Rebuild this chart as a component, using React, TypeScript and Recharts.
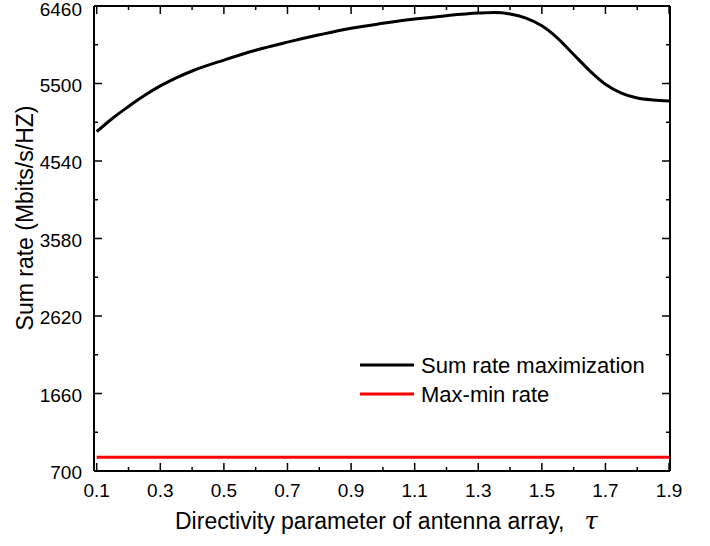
import { Customized, Legend, Line, LineChart, XAxis, YAxis } from 'recharts';

const tau = [
  0.1, 0.15, 0.2, 0.25, 0.3, 0.35, 0.4, 0.5, 0.6, 0.7, 0.8, 0.9, 1.0, 1.1, 1.2,
  1.3, 1.35, 1.4, 1.45, 1.5, 1.55, 1.6, 1.65, 1.7, 1.75, 1.8, 1.85, 1.9,
];
const sumRate = [
  4903, 5070, 5215, 5350, 5470, 5570, 5655, 5790, 5912, 6012, 6103, 6185, 6245,
  6298, 6340, 6372, 6380, 6362, 6310, 6215, 6060, 5860, 5660, 5490, 5380, 5320,
  5295, 5283,
];
const maxMinTau = [0.1, 1.9];
const maxMinRate = [870, 870];

const xTicks = [
  0.1, 0.2, 0.3, 0.4, 0.5, 0.6, 0.7, 0.8, 0.9, 1.0, 1.1, 1.2, 1.3, 1.4, 1.5,
  1.6, 1.7, 1.8, 1.9,
];
const xTickLabels = ['0.1', '0.3', '0.5', '0.7', '0.9', '1.1', '1.3', '1.5', '1.7', '1.9'];
const yTicks = [700, 1180, 1660, 2140, 2620, 3100, 3580, 4060, 4540, 5020, 5500, 5980, 6460];
const yTickLabels = ['700', '1660', '2620', '3580', '4540', '5500', '6460'];

const FONT = '"Liberation Sans", Arial, sans-serif';

const sumData = tau.map((t, i) => ({ x: t, y: sumRate[i] }));
const maxMinData = maxMinTau.map((t, i) => ({ x: t, y: maxMinRate[i] }));

const tickLen = (i: number) => (i % 2 === 0 ? 8 : 4);

const BottomTick = (props: any) => {
  const { x, y, index } = props;
  return (
    <g>
      <line x1={x} x2={x} y1={y} y2={y - tickLen(index)} stroke="#000" strokeWidth={1.5} />
      {index % 2 === 0 && (
        <text x={x} y={y + 26} textAnchor="middle" fontSize={19} fontFamily={FONT} fill="#000">
          {xTickLabels[index / 2]}
        </text>
      )}
    </g>
  );
};

const TopTick = (props: any) => {
  const { x, y, index } = props;
  return <line x1={x} x2={x} y1={y} y2={y + tickLen(index)} stroke="#000" strokeWidth={1.5} />;
};

const LeftTick = (props: any) => {
  const { x, y, index } = props;
  return (
    <g>
      <line x1={x} x2={x + tickLen(index)} y1={y} y2={y} stroke="#000" strokeWidth={1.5} />
      {index % 2 === 0 && (
        <text x={x - 12} y={Math.max(y + 8, 16)} textAnchor="end" fontSize={19} fontFamily={FONT} fill="#000">
          {yTickLabels[index / 2]}
        </text>
      )}
    </g>
  );
};

const RightTick = (props: any) => {
  const { x, y, index } = props;
  return <line x1={x} x2={x - tickLen(index)} y1={y} y2={y} stroke="#000" strokeWidth={1.5} />;
};

const AxisTitles = () => (
  <g fontFamily={FONT} fill="#000">
    <text x={0} y={0} transform="translate(33, 218) rotate(-90)" textAnchor="middle" fontSize={23}>
      Sum rate (Mbits/s/HZ)
    </text>
    <text x={175} y={529} fontSize={23}>
      Directivity parameter of antenna array,
      <tspan dx={20} fontFamily='"DejaVu Serif", "Liberation Serif", serif' fontStyle="italic" fontSize={24}>
        τ
      </tspan>
    </text>
  </g>
);

const legendItems = [
  { name: 'Sum rate maximization', color: '#000' },
  { name: 'Max-min rate', color: '#ff0000' },
];

const LegendBox = () => (
  <svg width={320} height={70} style={{ display: 'block' }}>
    {legendItems.map((item, i) => (
      <g key={item.name}>
        <line x1={2} x2={56} y1={13 + i * 29} y2={13 + i * 29} stroke={item.color} strokeWidth={3} />
        <text x={63} y={21 + i * 29} fontSize={22} fontFamily={FONT} fill="#000">
          {item.name}
        </text>
      </g>
    ))}
  </svg>
);

export default function App() {
  return (
    <div style={{ position: 'absolute', left: 0, top: 0, background: '#fff' }}>
      <LineChart width={710} height={546} margin={{ top: 5, right: 39, left: 0, bottom: 0 }}>
        <XAxis
          xAxisId="b"
          type="number"
          dataKey="x"
          domain={[0.0915, 1.903]}
          ticks={xTicks}
          interval={0}
          height={75}
          tickSize={0}
          tickMargin={0}
          tickLine={false}
          axisLine={{ stroke: '#000', strokeWidth: 2 }}
          tick={BottomTick}
          allowDataOverflow
        />
        <XAxis
          xAxisId="t"
          orientation="top"
          type="number"
          dataKey="x"
          domain={[0.0915, 1.903]}
          ticks={xTicks}
          interval={0}
          height={1}
          tickSize={0}
          tickMargin={0}
          tickLine={false}
          axisLine={{ stroke: '#000', strokeWidth: 2 }}
          tick={TopTick}
          allowDataOverflow
        />
        <YAxis
          yAxisId="l"
          type="number"
          domain={[700, 6460]}
          ticks={yTicks}
          interval={0}
          width={94}
          tickSize={0}
          tickMargin={0}
          tickLine={false}
          axisLine={{ stroke: '#000', strokeWidth: 2 }}
          tick={LeftTick}
          allowDataOverflow
        />
        <YAxis
          yAxisId="r"
          orientation="right"
          type="number"
          domain={[700, 6460]}
          ticks={yTicks}
          interval={0}
          width={1}
          tickSize={0}
          tickMargin={0}
          tickLine={false}
          axisLine={{ stroke: '#000', strokeWidth: 2 }}
          tick={RightTick}
          allowDataOverflow
        />
        <Line
          xAxisId="b"
          yAxisId="l"
          data={sumData}
          dataKey="y"
          type="monotone"
          stroke="#000"
          strokeWidth={3}
          dot={false}
          isAnimationActive={false}
          name="Sum rate maximization"
        />
        <Line
          xAxisId="b"
          yAxisId="l"
          data={maxMinData}
          dataKey="y"
          type="linear"
          stroke="#ff0000"
          strokeWidth={3}
          dot={false}
          isAnimationActive={false}
          name="Max-min rate"
        />
        <Legend
          layout="vertical"
          align="center"
          verticalAlign="middle"
          content={LegendBox}
          wrapperStyle={{ position: 'absolute', left: 358, top: 352, width: 320, height: 70 }}
        />
        <Customized component={AxisTitles} />
      </LineChart>
    </div>
  );
}
